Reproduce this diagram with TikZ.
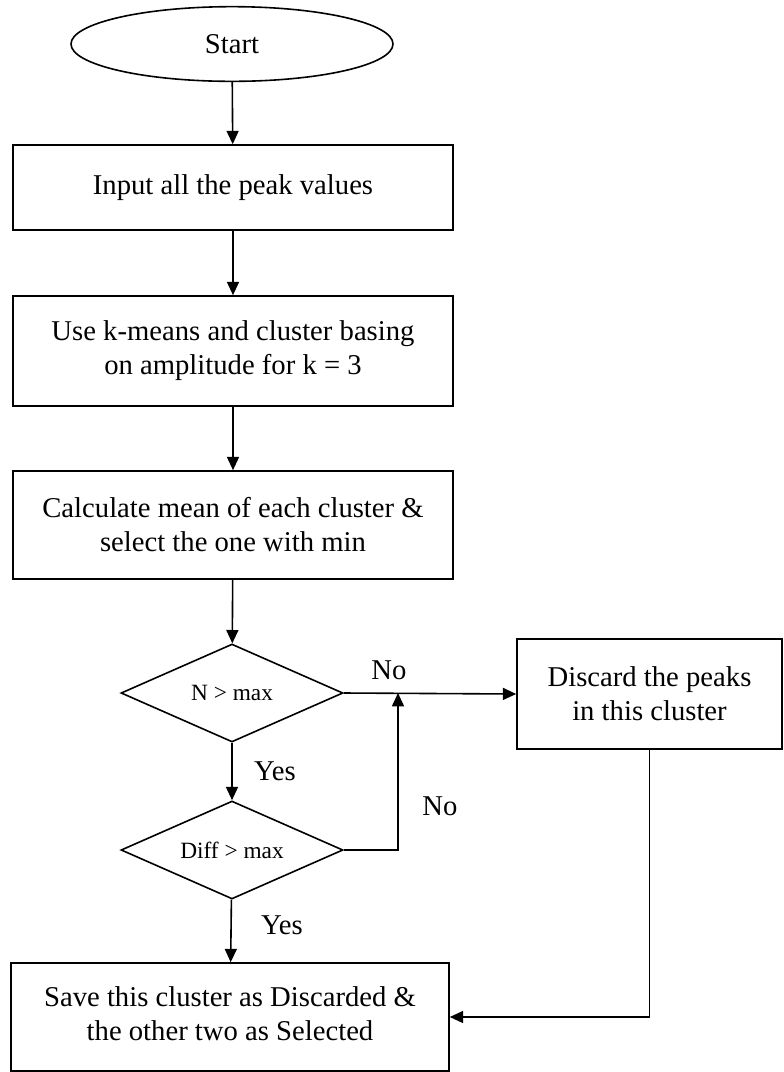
\documentclass[tikz,border=0pt]{standalone}
\usepackage{fontspec}
\setmainfont{Liberation Serif}
\usetikzlibrary{shapes.geometric,arrows.meta}
\begin{document}
\begin{tikzpicture}[x=0.75pt,y=-0.75pt,
  txt/.style={font=\fontsize{21.5}{25.5}\selectfont},
  small/.style={font=\fontsize{17.5}{20}\selectfont},
  box/.style={draw,line width=1.2pt,rectangle,align=center,inner sep=0pt,txt},
  oval/.style={draw,line width=1.2pt,ellipse,inner sep=0pt,txt,
    minimum width=241.5pt,minimum height=56pt},
  decision/.style={draw,line width=1.2pt,diamond,aspect=2.26,inner sep=0pt,small,
    minimum width=166.5pt,minimum height=73.5pt},
  flow/.style={line width=1.2pt,-{Triangle[width=9pt,length=10pt]}},
  lbl/.style={txt,inner sep=0pt}
]
\useasboundingbox (0,0) rectangle (783,1072);

% process nodes
\node[oval] (start) at (232,44) {Start};
\node[box,minimum width=330pt,minimum height=63.75pt] (input) at (233,187.5)
  {Input all the peak values};
\node[box,minimum width=330pt,minimum height=82.5pt] (kmeans) at (233,351)
  {Use k-means and cluster basing\\on amplitude for k = 3};
\node[box,minimum width=330pt,minimum height=81pt] (mean) at (233,525)
  {Calculate mean of each cluster \&\\select the one with min};
\node[decision] (ncheck) at (232,693) {N > max};
\node[decision] (dcheck) at (232,850) {Diff > max};
\node[box,minimum width=198.75pt,minimum height=82.5pt] (discard) at (649.5,694)
  {Discard the peaks\\in this cluster};
\node[box,minimum width=328.5pt,minimum height=81pt] (save) at (230,1017)
  {\raisebox{-7pt}{\begin{tabular}{@{}c@{}}Save this cluster as Discarded \&\\
   the other two as Selected\end{tabular}}};

% junction where the second "No" branch joins
\coordinate (join) at (398,693);

% connectors
\draw[flow] (start) -- (input);
\draw[flow] (input) -- (kmeans);
\draw[flow] (kmeans) -- (mean);
\draw[flow] (mean) -- (ncheck);
\draw[flow] (ncheck.east) -- (discard.west);
\draw[flow] (ncheck) -- (dcheck);
\draw[flow] (dcheck.east) -| (join);
\draw[flow] (dcheck) -- (save);
\draw[flow] (discard.south) |- (save.east);

% branch labels
\node[lbl] (no1) at (389,670) {No};
\node[lbl] (yes1) at (275,771) {Yes};
\node[lbl] (no2) at (440,806) {No};
\node[lbl] (yes2) at (282,925) {Yes};
\end{tikzpicture}
\end{document}
